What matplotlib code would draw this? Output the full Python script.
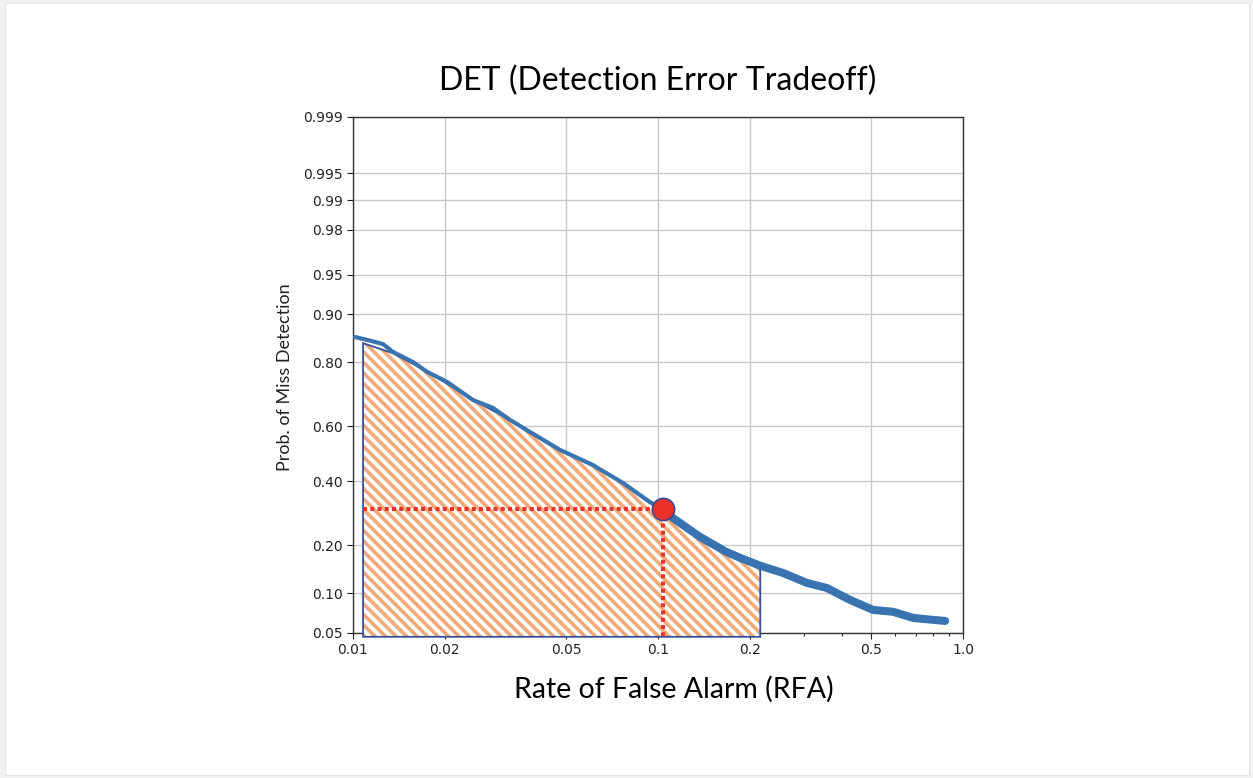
import math
import numpy as np
import matplotlib
matplotlib.use("Agg")
import matplotlib.pyplot as plt
from matplotlib.patches import Polygon, Rectangle
from matplotlib.collections import LineCollection
from matplotlib.transforms import IdentityTransform

# DET curve (false alarm rate, miss probability)
rfa = [0.01015, 0.01111, 0.01254, 0.01352, 0.01573, 0.01749, 0.02035, 0.02474,
       0.02876, 0.03272, 0.03806, 0.04772, 0.0611, 0.0768, 0.0940, 0.1037,
       0.1118, 0.1372, 0.1674, 0.1855, 0.2164, 0.2571, 0.3076, 0.3579,
       0.4258, 0.5067, 0.5898, 0.6863, 0.7987, 0.8741]
pmiss = [0.858, 0.852, 0.843, 0.825, 0.800, 0.774, 0.745, 0.689,
         0.663, 0.622, 0.579, 0.514, 0.459, 0.394, 0.329, 0.306,
         0.278, 0.223, 0.184, 0.170, 0.152, 0.137, 0.118, 0.109,
         0.090, 0.076, 0.0735, 0.066, 0.0637, 0.0625]

# shaded region under the curve
area_x = [0.01079, 0.0135, 0.0175, 0.0247, 0.0327, 0.0477, 0.0611, 0.0768,
          0.094, 0.1037, 0.1118, 0.1372, 0.1674, 0.2164]
area_y = [0.845, 0.822, 0.775, 0.690, 0.622, 0.514, 0.459, 0.394,
          0.329, 0.306, 0.278, 0.223, 0.184, 0.152]
area_bottom = 0.0465

# operating point
op_x, op_y = 0.1037, 0.306

xticks = [0.01, 0.02, 0.05, 0.1, 0.2, 0.5, 1.0]
xlabels = ["0.01", "0.02", "0.05", "0.1", "0.2", "0.5", "1.0"]
yticks = [0.05, 0.10, 0.20, 0.40, 0.60, 0.80, 0.90, 0.95, 0.98, 0.99, 0.995, 0.999]
ylabels = ["0.05", "0.10", "0.20", "0.40", "0.60", "0.80", "0.90", "0.95",
           "0.98", "0.99", "0.995", "0.999"]

_erf = np.vectorize(math.erf)


def ppf(p):
    # normal quantile by bisection
    p = np.asarray(p, float)
    lo = np.full(p.shape, -10.0)
    hi = np.full(p.shape, 10.0)
    for _ in range(70):
        mid = (lo + hi) / 2
        below = 0.5 * (1 + _erf(mid / math.sqrt(2))) < p
        lo = np.where(below, mid, lo)
        hi = np.where(below, hi, mid)
    return (lo + hi) / 2


W, H = 1253, 778
fig = plt.figure(figsize=(W / 100, H / 100), dpi=100, facecolor="#f1f1f1")
fig.patches.append(Rectangle((5 / W, 3 / H), 1244 / W, 772 / H, transform=fig.transFigure,
                             facecolor="white", edgecolor="#e4e4e4", lw=0.8, zorder=-5))

ax = fig.add_axes([353 / W, 1 - 633 / H, 610 / W, 516 / H])
ax.set_xscale("log")
ax.set_xlim(0.01, 1.0)
ax.set_ylim(ppf(0.05), ppf(0.999))
ax.set_xticks(xticks)
ax.set_xticklabels(xlabels)
ax.set_yticks(ppf(yticks))
ax.set_yticklabels(ylabels)
ax.tick_params(labelsize=10, colors="#222222", length=4)
ax.tick_params(axis="x", which="minor", length=2.5)
ax.grid(True, which="major", color="#c9c9c9", lw=1)
ax.set_axisbelow(True)
for s in ax.spines.values():
    s.set_color("#333333")
    s.set_linewidth(1.0)

# hatched polygon
verts_x = [area_x[0]] + area_x + [area_x[-1], area_x[0]]
verts_y = [area_bottom] + area_y + [area_bottom, area_bottom]
verts = np.column_stack([verts_x, ppf(verts_y)])
poly = Polygon(verts, closed=True, facecolor="white", edgecolor="none",
               zorder=3, clip_on=False)
ax.add_patch(poly)

# stripes in pixel space, clipped to polygon
pix = ax.transData.transform(verts)
x0, y0 = pix.min(axis=0)
x1, y1 = pix.max(axis=0)
step = 10.5
segs = []
k = x0 + y0 - (x1 - x0)
while k < x1 + y1 + 10:
    segs.append([(k - y1 - 20, y1 + 20), (k - y0 + 20, y0 - 20)])
    k += step
stripes = LineCollection(segs, colors="#f0a977", linewidths=2.6,
                         transform=IdentityTransform(), zorder=3.2)
stripes.set_clip_path(poly)
ax.add_collection(stripes)
poly_edge = Polygon(verts, closed=True, facecolor="none", edgecolor="#34519a",
                    lw=1.3, zorder=3.5, clip_on=False)
ax.add_patch(poly_edge)

# DET curve
rfa_a = np.array(rfa)
pm_a = np.array(pmiss)
ax.plot(rfa_a, ppf(pm_a), color="#3a74b0", lw=3.0, solid_capstyle="round",
        solid_joinstyle="round", zorder=4)
tail = rfa_a >= 0.1
ax.plot(rfa_a[tail], ppf(pm_a[tail]), color="#3a74b0", lw=5.8,
        solid_capstyle="round", solid_joinstyle="round", zorder=4)

# operating point guides
ax.plot([area_x[0], op_x], ppf([op_y, op_y]), color="#e8322a", lw=2.9,
        linestyle=(0, (1.0, 0.8)), zorder=5, clip_on=False)
ax.plot([op_x, op_x], ppf([op_y, area_bottom]), color="#e8322a", lw=2.9,
        linestyle=(0, (1.0, 0.8)), zorder=5, clip_on=False)
ax.plot([op_x], ppf([op_y]), marker="o", ms=16, color="#e8322a",
        markeredgecolor="#3a4a90", markeredgewidth=1.2, zorder=6, clip_on=False)

fig.text(658 / W, 1 - 90 / H, "DET (Detection Error Tradeoff)", family="Lato",
         fontsize=23, ha="center", va="baseline", color="black")
fig.text(674 / W, 1 - 698 / H, "Rate of False Alarm (RFA)", family="Lato",
         fontsize=20.5, ha="center", va="baseline", color="black")
fig.text(285 / W, 1 - 377 / H, "Prob. of Miss Detection", family="Lato",
         fontsize=13, ha="center", va="center", rotation=90, color="#222222")

fig.savefig("out.png", dpi=100, facecolor=fig.get_facecolor())
